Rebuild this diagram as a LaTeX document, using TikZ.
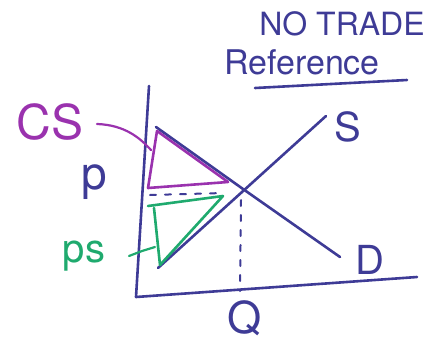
\documentclass[tikz,border=0pt]{standalone}
\usepackage{fontspec}
\setmainfont{TeX Gyre Heros}
\definecolor{ink}{HTML}{3E3B96}
\definecolor{cspurple}{HTML}{9A32AE}
\definecolor{psgreen}{HTML}{1FAA6E}
\begin{document}
\begin{tikzpicture}[x=1pt,y=-1pt,
  pen/.style={line width=2.6pt,line cap=round,line join=round},
  axis/.style={pen,draw=ink},
  curve/.style={pen,draw=ink},
  cs/.style={pen,draw=cspurple},
  ps/.style={pen,draw=psgreen},
  guide/.style={line width=2pt,draw=ink,dash pattern=on 6pt off 9pt,line cap=round},
  lab/.style={inner sep=0pt,text=ink}]
\useasboundingbox (0,0) rectangle (441,348);
% axes
\coordinate (ytop) at (149,86);
\coordinate (origin) at (136,297);
\coordinate (xend) at (417,277);
\draw[axis] (ytop) -- (origin) -- (xend);
% supply and demand
\coordinate (sA) at (158,268);
\coordinate (sB) at (326,116);
\coordinate (dA) at (156,127);
\coordinate (dB) at (340,257);
\coordinate (eq) at (243,189);
\draw[curve] (sA) -- (sB);
\draw[curve] (dA) -- (eq) -- (dB);
% dashed guides
\coordinate (qtop) at (241,200);
\coordinate (qbot) at (240,291);
\draw[guide] (qtop) -- (qbot);
\coordinate (pl) at (150,195);
\coordinate (pr) at (224,193);
\draw[guide] (pl) -- (pr);
% consumer surplus triangle
\coordinate (c1) at (157,131);
\coordinate (c2) at (148,188);
\coordinate (c3) at (228,182);
\draw[cs] (c1) -- (c2) -- (c3) -- cycle;
% producer surplus triangle
\coordinate (g1) at (148,206);
\coordinate (g2) at (223,196);
\coordinate (g3) at (160,265);
\draw[ps] (g1) -- (g2) -- (g3) -- (154,208);
% labels
\node[lab,text=cspurple,font=\fontsize{48}{50}\selectfont] (CS) at (50,122) {CS};
\coordinate (cstip) at (151,150);
\draw[cs,line width=2.2pt] (97,124) .. controls (125,125) and (140,138) .. (cstip);
\node[lab,font=\fontsize{46}{48}\selectfont] (P) at (94,182) {p};
\node[lab,text=psgreen,font=\fontsize{40}{42}\selectfont] (PS) at (84,256) {ps};
\coordinate (pstip) at (155,247);
\draw[ps,line width=2.2pt] (129,256) -- (142,251) -- (pstip);
\node[lab,font=\fontsize{40}{42}\selectfont] (S) at (348,127) {S};
\node[lab,font=\fontsize{40}{42}\selectfont] (D) at (370,260) {D};
\node[lab,font=\fontsize{44}{46}\selectfont] (Q) at (245,318) {Q};
\node[lab,font=\fontsize{32}{34}\selectfont] (NT) at (342,24) {NO TRADE};
\node[lab,font=\fontsize{34}{36}\selectfont] (REF) at (302,62) {Reference};
\coordinate (ul1) at (255,88);
\coordinate (ul2) at (407,80);
\draw[pen,draw=ink] (ul1) -- (ul2);
\end{tikzpicture}
\end{document}
